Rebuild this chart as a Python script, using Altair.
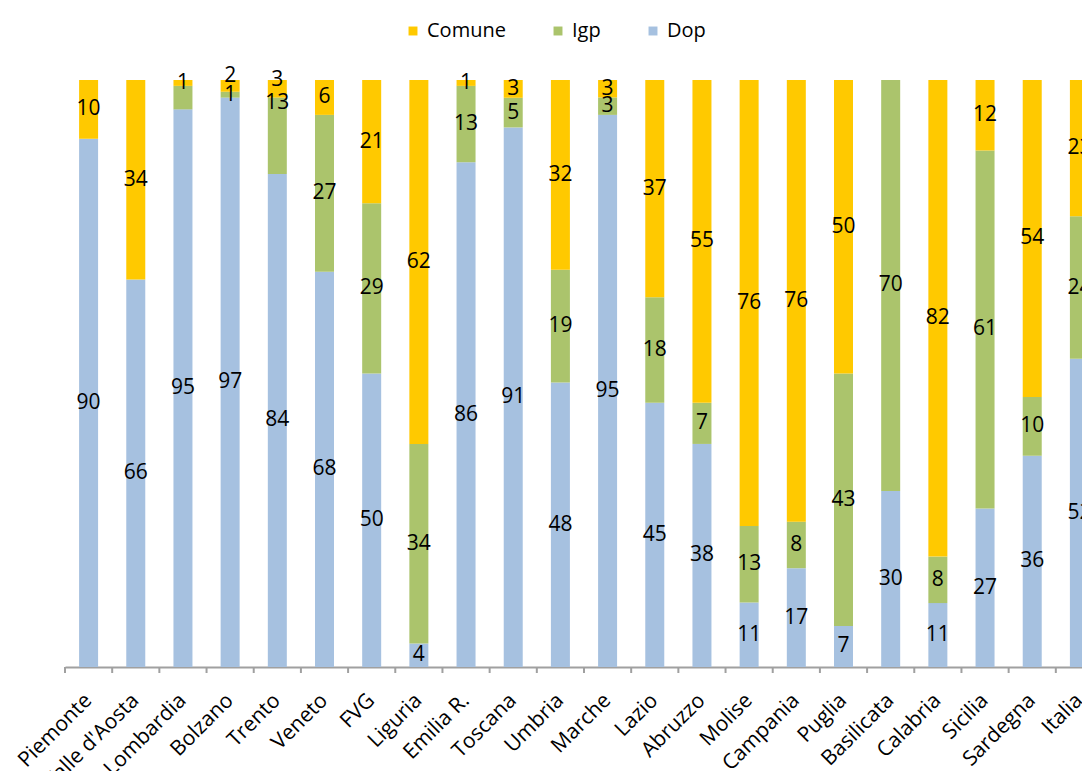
import altair as alt
import pandas as pd

regions = ["Piemonte", "Valle d'Aosta", "Lombardia", "Bolzano", "Trento", "Veneto",
           "FVG", "Liguria", "Emilia R.", "Toscana", "Umbria", "Marche", "Lazio",
           "Abruzzo", "Molise", "Campania", "Puglia", "Basilicata", "Calabria",
           "Sicilia", "Sardegna", "Italia"]
dop = [90, 66, 95, 97, 84, 68, 50, 4, 86, 91, 48, 95, 45, 38, 11, 17, 7, 30, 11, 27, 36, 52]
igp = [0, 0, 4, 1, 13, 27, 29, 34, 13, 5, 19, 3, 18, 7, 13, 8, 43, 70, 8, 61, 10, 24]
comune = [10, 34, 1, 2, 3, 6, 21, 62, 1, 3, 32, 3, 37, 55, 76, 76, 50, 0, 82, 12, 54, 23]
series = ["Comune", "Igp", "Dop"]
colors = ["#FFC900", "#ABC46C", "#A6C1E0"]
hidden_labels = [("Lombardia", "Igp")]
# pixel nudges (dy) for labels moved off their segment centre in the original
label_nudges = {("Bolzano", "Comune"): -10, ("Trento", "Comune"): -9, ("Trento", "Igp"): -33}

rows = []
for i, r in enumerate(regions):
    for s, vals, order in (("Dop", dop, 0), ("Igp", igp, 1), ("Comune", comune, 2)):
        v = vals[i]
        show = v > 0 and (r, s) not in hidden_labels
        rows.append({"region": r, "serie": s, "value": v, "ord": order,
                     "label": str(v) if show else "",
                     "key": r + "|" + s})
df = pd.DataFrame(rows)

FONT = "Open Sans"
xscale = alt.Scale(domain=regions, range=[0, 1038], paddingInner=0, paddingOuter=0)
yscale = alt.Scale(domain=[0, 1], nice=False)

base = alt.Chart(df).transform_stack(
    stack="value", groupby=["region"], as_=["y0", "y1"],
    sort=[alt.SortField("ord", order="ascending")], offset="normalize"
).transform_calculate(mid="(datum.y0 + datum.y1) / 2")

bars = base.mark_bar(size=19).encode(
    x=alt.X("region:N", scale=xscale, sort=regions,
            axis=alt.Axis(title=None, labelAngle=-45, labelAlign="right",
                          labelBaseline="middle", labelFont=FONT, labelFontSize=21,
                          labelColor="#000000", ticks=False, domainColor="#A0A0A0",
                          domainWidth=2, labelPadding=30, labelOverlap=False,
                          labelBound=False)),
    y=alt.Y("y0:Q", scale=yscale, axis=None),
    y2="y1:Q",
    color=alt.Color("serie:N", scale=alt.Scale(domain=series, range=colors),
                    legend=alt.Legend(title=None, orient="none", direction="horizontal",
                                      legendX=338, legendY=-59, symbolType="square",
                                      symbolSize=80, symbolStrokeWidth=0,
                                      labelFont=FONT, labelFontSize=20, labelColor="#000000",
                                      columnPadding=42, labelOffset=4)),
)

nudged_keys = [r + "|" + s for (r, s) in label_nudges]


def text_layer(dy, keys=None, exclude=None):
    t = base
    if keys is not None:
        t = t.transform_filter(alt.FieldOneOfPredicate(field="key", oneOf=keys))
    if exclude is not None:
        t = t.transform_filter(~alt.FieldOneOfPredicate(field="key", oneOf=exclude))
    return t.mark_text(font=FONT, fontSize=21, color="#000000", baseline="middle",
                       dy=dy).encode(
        x=alt.X("region:N", scale=xscale, sort=regions),
        y=alt.Y("mid:Q", scale=yscale),
        text="label:N",
    )


text_layers = [text_layer(0, exclude=nudged_keys)]
for (r, s), dy in label_nudges.items():
    text_layers.append(text_layer(dy, keys=[r + "|" + s]))

ticks_df = pd.DataFrame({"region": regions})
ticks = alt.Chart(ticks_df).mark_rule(color="#A0A0A0", strokeWidth=2).encode(
    x=alt.X("region:N", scale=xscale, sort=regions, bandPosition=0),
    y=alt.value(587),
    y2=alt.value(593),
)

chart = alt.layer(bars, *text_layers, ticks).properties(
    width=1017, height=587,
    autosize=alt.AutoSizeParams(type="none"),
    padding={"left": 57, "top": 72, "right": 0, "bottom": 104},
).configure_view(stroke=None).configure_axis(grid=False)

chart.save("out.html", embed_options={"renderer": "svg", "actions": False})
